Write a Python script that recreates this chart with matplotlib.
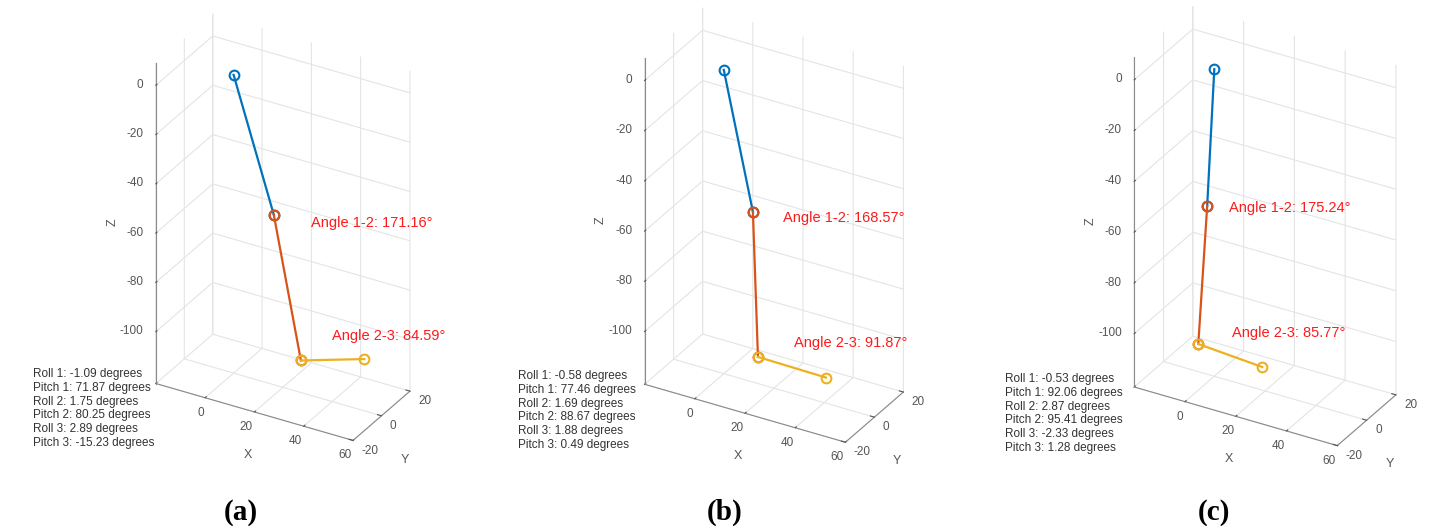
import matplotlib.pyplot as plt
from mpl_toolkits.mplot3d import proj3d

plt.rcParams['font.family'] = ['Liberation Sans', 'DejaVu Sans']
plt.rcParams['axes.unicode_minus'] = False
plt.rcParams['grid.color'] = '#e4e4e4'
plt.rcParams['grid.linewidth'] = 0.8

captions = ['(a)', '(b)', '(c)']

# joint positions
joints_x = [[0, 16.3, 27.3, 53.0], [0, 11.6, 13.6, 40.7], [0, -2.8, -6.3, 18.9]]
joints_y = [[0, 0, 0, 0], [0, 0, 0, 0], [0, 0, 0, 0]]
joints_z = [[0, -52.0, -108.0, -100.0], [0, -53.2, -110.4, -110.8], [0, -54.7, -110.1, -111.9]]

angle12 = [171.16, 168.57, 175.24]
angle23 = [84.59, 91.87, 85.77]
roll = [[-1.09, 1.75, 2.89], [-0.58, 1.69, 1.88], [-0.53, 2.87, -2.33]]
pitch = [[71.87, 80.25, -15.23], [77.46, 88.67, 0.49], [92.06, 95.41, 1.28]]

seg_colors = ['#0072BD', '#D95319', '#EDB120']

# layout (pixels in a 1440x526 canvas)
W, H = 1440, 526
ax_center = [(277, 233), (768, 231), (1259, 232)]
ax_size = [436, 444, 449]
txt12 = [(31.4, -50.9), (23.4, -52.4), (5.9, -52.9)]
txt23 = [(40.0, -94.3), (27.8, -100.6), (7.0, -101.8)]
info_pos = [(33, 368), (518, 370), (1005, 373)]
cap_x = [241, 725, 1214]

fig = plt.figure(figsize=(W / 100, H / 100), dpi=100)

for i in range(3):
    cx, cy = ax_center[i]
    s = ax_size[i]
    ax = fig.add_axes([(cx - s / 2) / W, 1 - (cy + s / 2) / H, s / W, s / H],
                      projection='3d')
    ax.set_proj_type('ortho')
    ax.view_init(elev=30, azim=-60)
    ax.set_xlim(-20, 60)
    ax.set_ylim(-20, 20)
    ax.set_zlim(-121, 9)
    ax.set_box_aspect((80, 40, 130))

    X, Y, Z = joints_x[i], joints_y[i], joints_z[i]
    for k in range(3):
        ax.plot(X[k:k + 2], Y[k:k + 2], Z[k:k + 2], '-o', color=seg_colors[k],
                lw=1.6, ms=7, mfc='none', mew=1.5)

    # angle labels: anchor in data space, drawn as flat text
    M = ax.get_proj()
    for (tx, tz), txt in ((txt12[i], f'Angle 1-2: {angle12[i]:.2f}°'),
                          (txt23[i], f'Angle 2-3: {angle23[i]:.2f}°')):
        px, py, _ = proj3d.proj_transform(tx, 0, tz, M)
        ax.text2D(px, py, txt, transform=ax.transData, color='#ff1a1a',
                  fontsize=10.5, ha='left', va='center')

    ax.set_xticks([-20, 0, 20, 40, 60], ['', '0', '20', '40', '60'])
    ax.set_yticks([-20, 0, 20])
    ax.set_zticks([-100, -80, -60, -40, -20, 0])
    ax.set_xlabel('X', color='#555555', fontsize=9, labelpad=-2)
    ax.set_ylabel('Y', color='#555555', fontsize=9, labelpad=-2)
    ax.set_zlabel('Z', color='#555555', fontsize=9, labelpad=7)
    ax.zaxis.set_rotate_label(True)
    ax.tick_params(colors='#555555', labelsize=8.5)
    ax.tick_params(axis='x', pad=-4)
    ax.tick_params(axis='y', pad=-1)
    ax.tick_params(axis='z', pad=0)
    ax.zaxis.set_ticks_position('lower')
    ax.zaxis.set_label_position('lower')
    for t in ax.xaxis.get_major_ticks():
        t.label1.set_ha('right')
    for t in ax.yaxis.get_major_ticks():
        t.label1.set_ha('left')
        t.label1.set_va('bottom')
    for t in ax.zaxis.get_major_ticks():
        t.label1.set_ha('right')
        t.label1.set_va('center')
    for axis in (ax.xaxis, ax.yaxis, ax.zaxis):
        axis.set_pane_color((1, 1, 1, 0))
        axis.pane.set_edgecolor((1, 1, 1, 0))
        axis.line.set_color('#8a8a8a')
        axis.offsetText.set_visible(False)
        axis._axinfo['tick']['inward_factor'] = 0
        axis._axinfo['tick']['outward_factor'] = 0.25
        axis._axinfo['tick']['color'] = '#8a8a8a'

    lines = [f'Roll 1: {roll[i][0]:.2f} degrees', f'Pitch 1: {pitch[i][0]:.2f} degrees',
             f'Roll 2: {roll[i][1]:.2f} degrees', f'Pitch 2: {pitch[i][1]:.2f} degrees',
             f'Roll 3: {roll[i][2]:.2f} degrees', f'Pitch 3: {pitch[i][2]:.2f} degrees']
    fig.text(info_pos[i][0] / W, 1 - info_pos[i][1] / H, '\n'.join(lines),
             fontsize=8.5, color='#333333', ha='left', va='top', linespacing=1.2)

    fig.text(cap_x[i] / W, 1 - 512 / H, captions[i], ha='center', va='center',
             fontsize=21, fontweight='bold', family='Liberation Serif')

fig.savefig('out.png', dpi=100)
